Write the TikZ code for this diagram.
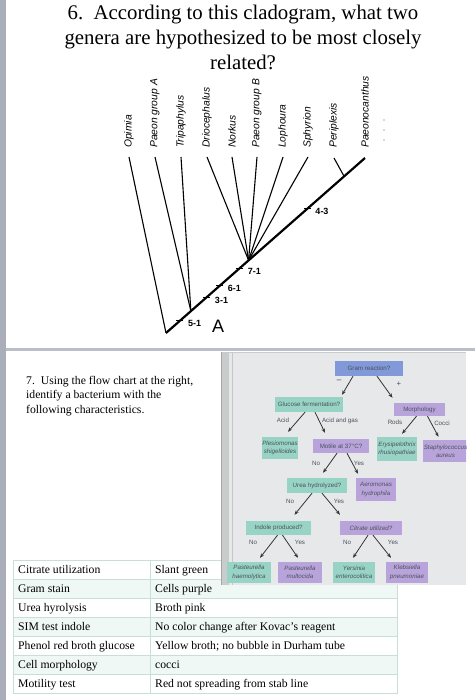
\documentclass[tikz,border=0pt]{standalone}
\usepackage{fontspec}
\setmainfont{Liberation Serif}
\setsansfont{Liberation Sans}
\usetikzlibrary{positioning,calc,arrows.meta}
\definecolor{slidegray}{HTML}{A9AEBA}
\definecolor{bandgray}{HTML}{BABEC6}
\definecolor{pagegray}{HTML}{E6E8EA}
\definecolor{framegray}{HTML}{C8CCCB}
\definecolor{boxblue}{HTML}{8199D9}
\definecolor{boxteal}{HTML}{98D4C5}
\definecolor{boxpurple}{HTML}{B8A4DB}
\definecolor{inkgray}{HTML}{4C515C}
\definecolor{rowmint}{HTML}{F0F8F5}
\definecolor{rulemint}{HTML}{C6E0D9}
\begin{document}
\begin{tikzpicture}[x=1pt,y=-1pt,
  clade/.style={font=\fontsize{10.3}{12}\selectfont\sffamily\itshape, rotate=90, anchor=west, inner sep=0pt},
  branch/.style={line width=1.1pt},
  stem/.style={line width=2.2pt},
  ticklbl/.style={font=\fontsize{9}{10}\selectfont\sffamily\bfseries, inner sep=0pt},
  cell/.style={font=\fontsize{11.7}{14}\selectfont, anchor=base west, inner sep=0pt},
  chartbox/.style={inner sep=0.5pt, align=center, font=\fontsize{6.2}{8.3}\selectfont\sffamily, text=inkgray},
  flbl/.style={font=\fontsize{6.2}{7}\selectfont\sffamily, text=inkgray, inner sep=0pt},
  arr/.style={-{Stealth[length=4.5pt,width=3.5pt]}, line width=0.8pt, black!80}]
  \useasboundingbox (0,0) rectangle (475,700);
  \fill[white] (0,0) rectangle (475,700);
  \fill[slidegray] (0,0) rectangle (5.5,700);
  \fill[bandgray] (5.5,347.5) rectangle (475,351);

  \node[font=\fontsize{20.8}{25}\selectfont, align=center, inner sep=0pt, anchor=north] (title) at (243,4.8)
    {6.\ \ According to this cladogram, what two\\genera are hypothesized to be most closely\\related?};

  \node[clade] (opimia) at (129,148) {Opimia};
  \node[clade] (paeonA) at (155,148) {Paeon group A};
  \node[clade] (tripa) at (181,148) {Tripaphylus};
  \node[clade] (drio) at (207,148) {Driocephalus};
  \node[clade] (norkus) at (232,148) {Norkus};
  \node[clade] (paeonB) at (257,148) {Paeon group B};
  \node[clade] (lopho) at (283,148) {Lophoura};
  \node[clade] (sphyr) at (308,148) {Sphyrion};
  \node[clade] (peripl) at (334,148) {Periplexis};
  \node[clade] (paeonoc) at (365,148) {Paeonocanthus};
  \foreach \yy in {120,130,140} \fill[gray!60] (384,\yy) circle (0.9pt);

  \coordinate (root) at (166,333);
  \coordinate (top) at ([yshift=-10pt]paeonoc.west);
  \coordinate (j1) at ($(root)!0.125!(top)$);
  \coordinate (j2) at ($(root)!0.415!(top)$);
  \coordinate (j3) at ($(root)!0.895!(top)$);
  \draw[stem] (root) -- (top);
  \draw[branch] ([yshift=-9pt]opimia.west) -- (root);
  \foreach \n in {paeonA,tripa} \draw[branch] ([yshift=-9pt]\n.west) -- (j1);
  \foreach \n in {drio,norkus,paeonB,lopho,sphyr} \draw[branch] ([yshift=-9pt]\n.west) -- (j2);
  \draw[branch] ([yshift=-10pt]peripl.west) -- (j3);
  \foreach \t/\txt/\nm in {0.07/5-1/t51, 0.205/3-1/t31, 0.27/6-1/t61, 0.37/7-1/t71, 0.71/4-3/t43} {
    \coordinate (\nm) at ($(root)!\t!(top)$);
    \draw[line width=1.2pt] ([xshift=-3.5pt]\nm) -- ([xshift=3.5pt]\nm);
    \node[ticklbl, right=8pt of \nm, yshift=-3pt] (l\nm) {\txt};
  }
  \node[font=\fontsize{18}{20}\selectfont\sffamily, inner sep=0pt] (cladeA) at (218,326) {A};

  \node[font=\fontsize{11.7}{14.5}\selectfont, align=left, anchor=north west, inner sep=0pt] (q7) at (26,376)
    {7.\ \ Using the flow chart at the right,\\identify a bacterium with the\\following characteristics.};

  \foreach \lft/\rgt [count=\i] in {Citrate utilization/Slant green, Gram stain/Cells purple,
      Urea hyrolysis/Broth pink, SIM test indole/No color change after Kovac’s reagent,
      Phenol red broth glucose/Yellow broth; no bubble in Durham tube,
      Cell morphology/cocci, Motility test/Red not spreading from stab line} {
    \pgfmathsetmacro{\ytop}{541+19*\i}
    \ifodd\i \def\rowfill{white}\else \def\rowfill{rowmint}\fi
    \draw[rulemint, fill=\rowfill] (13,\ytop) rectangle (397,\ytop+19);
    \draw[rulemint] (150,\ytop) -- (150,\ytop+19);
    \node[cell] (ka\i) at (18,\ytop+13.5) {\lft};
    \node[cell] (kb\i) at (155,\ytop+13.5) {\rgt};
  }

  \begin{scope}
    \clip (221,352) rectangle (466,585);
    \fill[framegray] (221,352) rectangle (466,585);
    \fill[pagegray] (229,353) rectangle (466,585);
    \draw[gray!70, line width=1pt] (221.5,352) -- (221.5,585);
    \draw[gray!45] (232,353) -- (232,585);

    \node[chartbox, fill=boxblue, minimum width=68pt, minimum height=15pt] (gram) at (369,368.5) {Gram reaction?};
    \node[chartbox, fill=boxteal, minimum width=68pt, minimum height=15pt] (gluc) at (309,404.5) {Glucose fermentation?};
    \node[chartbox, fill=boxpurple, minimum width=51pt, minimum height=13pt] (morph) at (419.5,409.5) {Morphology};
    \node[chartbox, fill=boxteal, minimum width=34pt, minimum height=22pt] (plesio) at (280,448) {\itshape Plesiomonas\\\itshape shigelloides};
    \node[chartbox, fill=boxpurple, minimum width=56pt, minimum height=14pt] (motile) at (341,446) {Motile at 37°C?};
    \node[chartbox, fill=boxteal, minimum width=40pt, minimum height=24pt] (erysi) at (397,449) {\itshape Erysipelothrix\\\itshape rhusiopathiae};
    \node[chartbox, fill=boxpurple, minimum width=44pt, minimum height=22pt] (staph) at (445.5,451) {\itshape Staphylococcus\\\itshape aureus};
    \node[chartbox, fill=boxteal, minimum width=60pt, minimum height=15pt] (urea) at (317,485.5) {Urea hydrolyzed?};
    \node[chartbox, fill=boxpurple, minimum width=40pt, minimum height=23pt] (aero) at (376,489.5) {\itshape Aeromonas\\\itshape hydrophila};
    \node[chartbox, fill=boxteal, minimum width=65pt, minimum height=14pt] (indole) at (278.5,528) {Indole produced?};
    \node[chartbox, fill=boxpurple, minimum width=62pt, minimum height=14pt] (citrate) at (371,528) {\itshape Citrate utilized?};
    \node[chartbox, fill=boxteal, minimum width=44pt, minimum height=21pt] (pasth) at (249,572.5) {\itshape Pasteurella\\\itshape haemolytica};
    \node[chartbox, fill=boxpurple, minimum width=44pt, minimum height=21pt] (pastm) at (300,572.5) {\itshape Pasteurella\\\itshape multocida};
    \node[chartbox, fill=boxteal, minimum width=42pt, minimum height=21pt] (yers) at (354,572.5) {\itshape Yersinia\\\itshape enterocolitica};
    \node[chartbox, fill=boxpurple, minimum width=42pt, minimum height=21pt] (kleb) at (407,572.5) {\itshape Klebsiella\\\itshape pneumoniae};

    \draw[arr] ([xshift=-16pt]gram.south) -- ([xshift=33pt,yshift=2pt]gluc.north);
    \draw[arr] ([xshift=8pt]gram.south) -- ([xshift=-27pt,yshift=5pt]morph.north);
    \draw[arr] ([xshift=-4pt]gluc.south) -- ([xshift=8pt,yshift=5pt]plesio.north);
    \draw[arr] ([xshift=6pt]gluc.south) -- ([xshift=-16pt,yshift=6pt]motile.north);
    \draw[arr] ([xshift=-3pt]morph.south) -- ([xshift=5pt,yshift=3pt]erysi.north);
    \draw[arr] ([xshift=8pt]morph.south) -- ([xshift=-7pt,yshift=3pt]staph.north);
    \draw[arr] ([xshift=-4pt]motile.south) -- ([xshift=6pt,yshift=5pt]urea.north);
    \draw[arr] ([xshift=6pt]motile.south) -- ([xshift=-18pt,yshift=4pt]aero.north);
    \draw[arr] ([xshift=-5pt]urea.south) -- ([xshift=16pt,yshift=6pt]indole.north);
    \draw[arr] ([xshift=5pt]urea.south) -- ([xshift=-31pt,yshift=6pt]citrate.north);
    \draw[arr] ([xshift=-1pt]indole.south) -- ([xshift=11pt,yshift=4pt]pasth.north);
    \draw[arr] ([xshift=4pt]indole.south) -- ([xshift=-2pt,yshift=4pt]pastm.north);
    \draw[arr] ([xshift=-3pt]citrate.south) -- ([xshift=-1pt,yshift=4pt]yers.north);
    \draw[arr] ([xshift=2pt]citrate.south) -- ([xshift=-16pt,yshift=4pt]kleb.north);

    \node[flbl, font=\fontsize{9}{9}\selectfont\bfseries] (minus) at (339,381) {--};
    \node[flbl, font=\fontsize{8}{8}\selectfont\bfseries] (plus) at (399,384) {+};
    \node[flbl] (lacid) at (283,420) {Acid};
    \node[flbl] (lgas) at (340,421) {Acid and gas};
    \node[flbl] (lrods) at (395,422) {Rods};
    \node[flbl] (lcocci) at (442,423) {Cocci};
    \node[flbl] (lno1) at (316,463) {No};
    \node[flbl] (lyes1) at (359,463) {Yes};
    \node[flbl] (lno2) at (290,501) {No};
    \node[flbl] (lyes2) at (339,501) {Yes};
    \node[flbl] (lno3) at (253,542) {No};
    \node[flbl] (lyes3) at (300,542) {Yes};
    \node[flbl] (lno4) at (347,542) {No};
    \node[flbl] (lyes4) at (393,542) {Yes};
  \end{scope}
\end{tikzpicture}
\end{document}
